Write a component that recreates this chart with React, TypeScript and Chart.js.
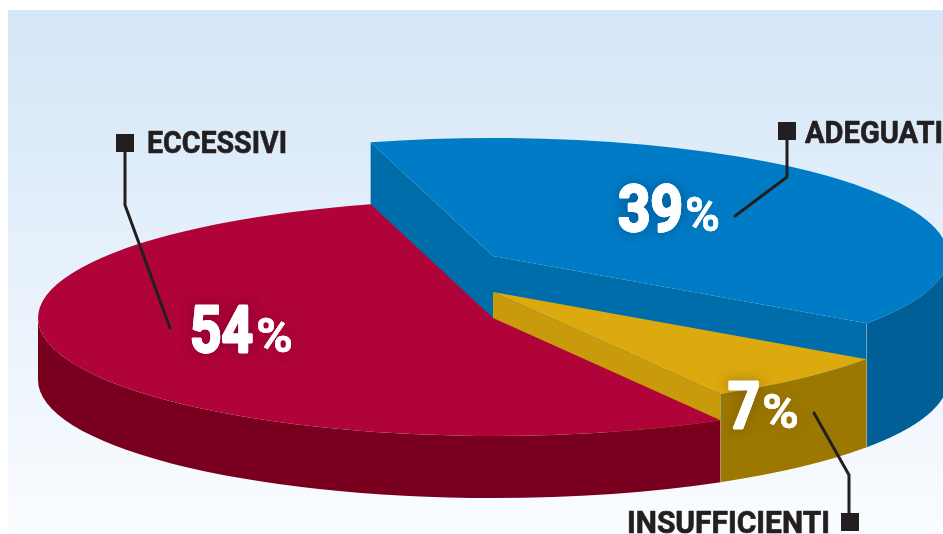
import React, { useEffect, useRef } from "react";
import { Chart, registerables } from "chart.js";

Chart.register(...registerables);

const categories = ["ECCESSIVI", "ADEGUATI", "INSUFFICIENTI"];
const shares = [54, 39, 7];

const topColors = ["#af0339", "#007cc6", "#dcaa0f"];
const rimColors = ["#78001e", "#005f96", "#9c7800"];
const wallColors = ["#78001e", "#006dab", "#c99a0c"];
const glowColors = ["rgba(90,0,25,0.85)", "rgba(0,45,95,0.85)", "rgba(80,55,0,0.85)"];

const CX = 493;
const RX = 455;
const RY = 118;
const BASE_Y = 380;
const topY = [318, 256, 292];
const paintOrder = [1, 2, 0];

const leaders = [
  { square: [116, 134], path: [[125, 152], [125, 205], [170, 328]], text: [147, 153, 140] },
  { square: [778, 122], path: [[787, 140], [787, 177], [735, 216]], text: [805, 143, 138] },
  { square: [841, 513], path: [[849, 513], [849, 475], [814, 413]], text: [627, 533, 203] },
];
const percentPos = [
  { x: 190, y: 352, w: 63, px: 256, pw: 37 },
  { x: 618, y: 231, w: 65, px: 685, pw: 35 },
  { x: 728, y: 428, w: 32, px: 762, pw: 37 },
];

function fitText(
  ctx: CanvasRenderingContext2D,
  text: string,
  x: number,
  y: number,
  w: number,
  stroke: number,
  glow?: string
) {
  const natural = ctx.measureText(text).width;
  ctx.save();
  ctx.translate(x, y);
  ctx.scale(w / natural, 1);
  ctx.lineWidth = stroke;
  ctx.lineJoin = "round";
  ctx.strokeStyle = ctx.fillStyle as string;
  if (glow) {
    ctx.shadowColor = glow;
    ctx.shadowBlur = 13;
    ctx.strokeText(text, 0, 0);
    ctx.shadowColor = "transparent";
    ctx.shadowBlur = 0;
  }
  ctx.strokeText(text, 0, 0);
  ctx.fillText(text, 0, 0);
  ctx.restore();
}

const pie3d = {
  id: "pie3d",
  beforeDatasetDraw(chart: any) {
    const ctx = chart.ctx as CanvasRenderingContext2D;
    const meta = chart.getDatasetMeta(0);
    for (const i of paintOrder) {
      const arc = meta.data[i];
      const { x, y, startAngle, endAngle, outerRadius } = arc.getProps(
        ["x", "y", "startAngle", "endAngle", "outerRadius"],
        true
      );
      const a = startAngle;
      const b = endAngle;
      const ty = topY[i];
      const at = (ang: number, yy: number) => [CX + RX * Math.cos(ang), yy + RY * Math.sin(ang)];

      // radial walls
      const wall = (ang: number) => {
        const p = at(ang, ty);
        const q = at(ang, BASE_Y);
        ctx.fillStyle = wallColors[i];
        ctx.beginPath();
        ctx.moveTo(CX, ty);
        ctx.lineTo(p[0], p[1]);
        ctx.lineTo(q[0], q[1]);
        ctx.lineTo(CX, BASE_Y);
        ctx.closePath();
        ctx.fill();
      };
      if (i === 1) {
        wall(a);
        wall(b);
      }
      if (i === 2) wall(b);

      // outer rim, only the front half of the ellipse
      const norm = (v: number) => {
        let n = v % (2 * Math.PI);
        if (n < 0) n += 2 * Math.PI;
        return n;
      };
      let s = norm(a);
      let e = norm(b);
      if (s > Math.PI) s = 0;
      if (e > Math.PI) e = Math.PI;
      ctx.fillStyle = rimColors[i];
      ctx.beginPath();
      ctx.ellipse(CX, ty, RX, RY, 0, s, e);
      ctx.ellipse(CX, BASE_Y, RX, RY, 0, e, s, true);
      ctx.closePath();
      ctx.fill();

      // pale seam where one rim meets the next
      ctx.strokeStyle = "rgba(255,255,255,0.28)";
      ctx.lineWidth = 1;
      [s, e].forEach((ang) => {
        if (ang <= 0 || ang >= Math.PI) return;
        const p = at(ang, ty);
        const q = at(ang, BASE_Y);
        ctx.beginPath();
        ctx.moveTo(p[0], p[1]);
        ctx.lineTo(q[0], q[1]);
        ctx.stroke();
      });

      // top face: the library's own arc, squashed into an ellipse
      ctx.save();
      ctx.translate(CX, ty);
      ctx.scale(RX / outerRadius, RY / outerRadius);
      ctx.translate(-x, -y);
      arc.draw(ctx);
      ctx.restore();
    }
    return false;
  },
  afterDatasetsDraw(chart: any) {
    const ctx = chart.ctx as CanvasRenderingContext2D;
    ctx.save();
    // leaders
    ctx.strokeStyle = "#231f20";
    ctx.fillStyle = "#231f20";
    ctx.lineWidth = 3;
    ctx.lineCap = "round";
    ctx.lineJoin = "round";
    leaders.forEach((l) => {
      ctx.fillRect(l.square[0], l.square[1], 18, 18);
      ctx.beginPath();
      l.path.forEach((p, k) => (k ? ctx.lineTo(p[0], p[1]) : ctx.moveTo(p[0], p[1])));
      ctx.stroke();
    });
    // category labels
    ctx.textBaseline = "alphabetic";
    ctx.font = 'bold 32px "Roboto"';
    categories.forEach((c, i) => {
      const t = leaders[i].text;
      fitText(ctx, c, t[0], t[1], t[2], 0.7);
    });
    // percentages
    ctx.fillStyle = "#ffffff";
    shares.forEach((v, i) => {
      const p = percentPos[i];
      ctx.font = 'bold 64px "Roboto"';
      fitText(ctx, String(v), p.x, p.y, p.w, 2.4, glowColors[i]);
      ctx.font = 'bold 49px "Roboto"';
      fitText(ctx, "%", p.px, p.y, p.pw, 0.4, glowColors[i]);
    });
    ctx.restore();
  },
};

export default function App() {
  const ref = useRef<HTMLCanvasElement>(null);
  useEffect(() => {
    const chart = new Chart(ref.current as HTMLCanvasElement, {
      type: "pie",
      data: {
        labels: categories,
        datasets: [{ data: shares, backgroundColor: topColors, borderWidth: 0 }],
      },
      options: {
        responsive: false,
        animation: false,
        rotation: 150,
        layout: { padding: 0 },
        plugins: { legend: { display: false }, tooltip: { enabled: false } },
      },
      plugins: [pie3d],
    } as any);
    return () => chart.destroy();
  }, []);
  return (
    <div style={{ position: "fixed", left: 0, top: 0, width: 943, height: 534, background: "#ffffff", overflow: "hidden" }}>
      <div
        style={{
          position: "absolute",
          left: 8,
          top: 10,
          right: 0,
          bottom: 0,
          background: "linear-gradient(180deg, #d4e6f7 0%, #fafcff 100%)",
        }}
      />
      <canvas ref={ref} width={943} height={534} style={{ position: "absolute", left: 0, top: 0, display: "block" }} />
    </div>
  );
}
